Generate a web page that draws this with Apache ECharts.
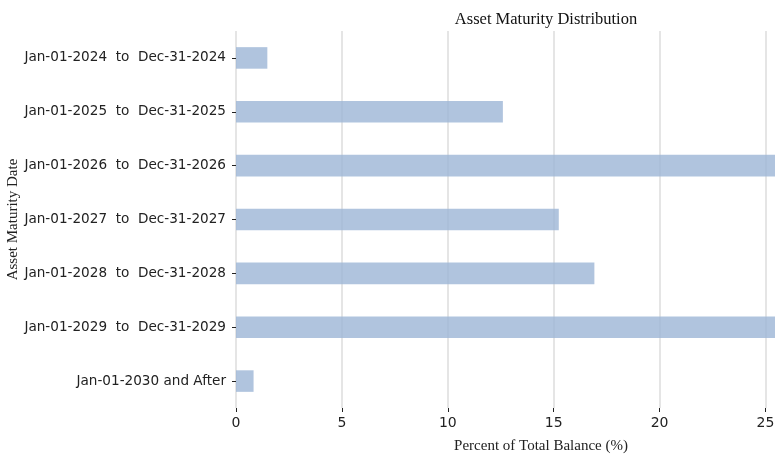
<!DOCTYPE html>
<html>
<head>
<meta charset="utf-8">
<script src="https://cdn.jsdelivr.net/npm/echarts@6/dist/echarts.min.js"></script>
<style>
  html, body { margin: 0; padding: 0; background: #fff; }
  #chart { width: 775px; height: 454px; }
</style>
</head>
<body>
<div id="chart"></div>
<script>
// 到期区间
const categories = [
  "Jan-01-2024  to  Dec-31-2024",
  "Jan-01-2025  to  Dec-31-2025",
  "Jan-01-2026  to  Dec-31-2026",
  "Jan-01-2027  to  Dec-31-2027",
  "Jan-01-2028  to  Dec-31-2028",
  "Jan-01-2029  to  Dec-31-2029",
  "Jan-01-2030 and After"
];
// 占比 (%) - 2026 / 2029 超出画面，估计值
const percentValues = [1.48, 12.6, 27.5, 15.24, 16.92, 27.0, 0.83];
const xTicks = [0, 5, 10, 15, 20, 25];

const serif = "'Liberation Serif', 'DejaVu Serif', serif";
const sans = "'DejaVu Sans', sans-serif";

const myChart = echarts.init(document.getElementById("chart"));
const option = {
  animation: false,
  title: {
    text: "Asset Maturity Distribution",
    left: 541,
    textAlign: "center",
    top: 6,
    textStyle: { fontFamily: serif, fontSize: 16.5, fontWeight: "normal", color: "#111" }
  },
  grid: {
    left: 236, right: -71, top: 31, bottom: 46,
    containLabel: false,
    outerBoundsMode: "none"
  },
  xAxis: {
    type: "value",
    min: 0,
    max: 28.8,
    interval: 5,
    name: "Percent of Total Balance (%)",
    nameLocation: "middle",
    nameGap: 31,
    nameTextStyle: { fontFamily: serif, fontSize: 15, color: "#222" },
    axisLine: { show: false },
    axisTick: { show: true, length: 4, lineStyle: { color: "#222" } },
    axisLabel: {
      fontFamily: sans, fontSize: 14, color: "#222", margin: 8,
      showMaxLabel: false,
      formatter: v => (xTicks.indexOf(v) >= 0 ? String(v) : "")
    },
    splitLine: { show: true, lineStyle: { color: "#dcdcdc", width: 1.5 } }
  },
  yAxis: {
    type: "category",
    data: categories,
    inverse: true,
    name: "Asset Maturity Date",
    nameLocation: "middle",
    nameGap: 215,
    nameRotate: 90,
    nameMoveOverlap: false,
    nameTextStyle: { fontFamily: serif, fontSize: 15, color: "#222" },
    axisLine: { show: false },
    axisTick: { show: true, length: 4, alignWithLabel: true, lineStyle: { color: "#222" } },
    axisLabel: { fontFamily: sans, fontSize: 13.6, color: "#222", margin: 10 },
    splitLine: { show: false }
  },
  series: [
    {
      type: "bar",
      data: percentValues,
      barWidth: "40%",
      clip: true,
      itemStyle: { color: "rgb(156,181,214)", opacity: 0.8 }
    }
  ]
};
myChart.setOption(option);
window.addEventListener("resize", () => {
  myChart.resize();
});
</script>
</body>
</html>
